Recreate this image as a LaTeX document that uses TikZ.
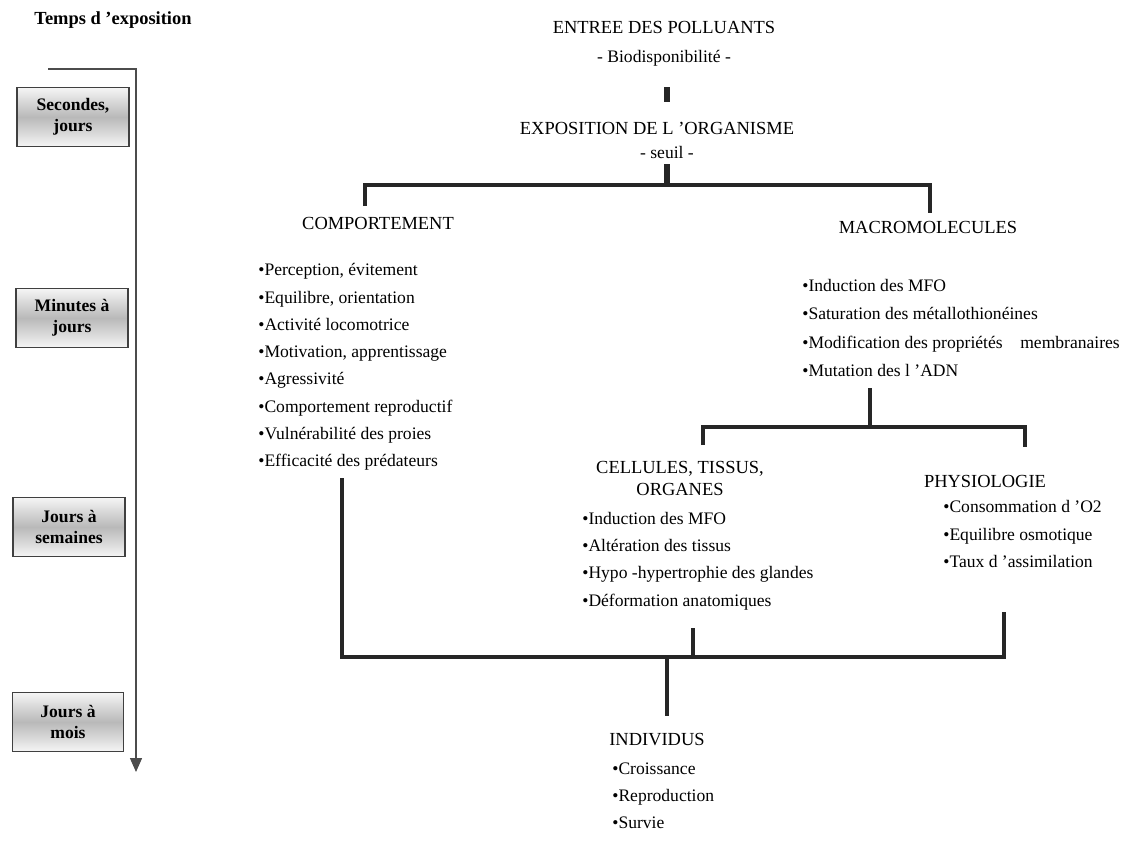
\documentclass[tikz,border=0pt]{standalone}
\usepackage{fontspec}
\setmainfont{Liberation Serif}
\usepackage{tikz}
\usetikzlibrary{arrows.meta, positioning}

\begin{document}
\begin{tikzpicture}[
  x=0.02cm, y=-0.02cm,
  every node/.style={font=\fontsize{10}{15.5}\selectfont},
  titre/.style={font=\fontsize{10.5}{12.5}\selectfont, align=center},
  liste/.style={align=left, anchor=west, inner sep=0pt},
  duree/.style={draw=black!75, line width=0.9pt, top color=gray!8, bottom color=gray!8, middle color=gray!55, minimum width=2.24cm, minimum height=1.18cm, align=center, inner sep=2pt, font=\fontsize{10}{12}\selectfont\bfseries},
  barre/.style={line width=2.8pt, black!85},
  fleche/.style={line width=0.8pt, black!70, -{Triangle[length=2.8mm, width=2.4mm]}}
]
  \useasboundingbox (0,0) rectangle (1140,845);

  % Echelle de temps
  \node[font=\fontsize{10.5}{12}\selectfont\bfseries] (temps) at (113,20) {Temps d 'exposition};
  \coordinate (t0) at (48,69);
  \coordinate (t1) at (136,772);
  \draw[fleche] (t0) -| (t1);
  \node[duree] (d1) at (73,117) {Secondes,\\jours};
  \node[duree] (d2) at (72,318) {Minutes à\\jours};
  \node[duree] (d3) at (69,527) {Jours à\\semaines};
  \node[duree, minimum width=2.22cm] (d4) at (68,722) {Jours à\\mois};

  % Entree et exposition
  \node[titre] (entree) at (664,27) {ENTREE DES POLLUANTS};
  \node (bio) at (664,58) {- Biodisponibilité -};
  \node[titre] (expo) at (657,128) {EXPOSITION DE L 'ORGANISME};
  \node (seuil) at (667,152) {- seuil -};
  \coordinate (b1h) at (667,87);
  \coordinate (b1b) at (667,102);
  \draw[barre, line width=3.2pt] (b1h) -- (b1b);

  % Premier embranchement
  \coordinate (s0) at (667,164);
  \coordinate (h1) at (667,185);
  \coordinate (cg) at (365,206);
  \coordinate (md) at (930,213);
  \draw[barre, line width=3.2pt] (s0) -- (h1);
  \draw[barre] (cg) |- (h1) -| (md);

  \node[titre] (comp) at (378,223) {COMPORTEMENT};
  \node[titre] (macro) at (928,227) {MACROMOLECULES};

  \node[liste] (lcomp) at (258,367) {\textbullet Perception, évitement\\
    \textbullet Equilibre, orientation\\
    \textbullet Activité locomotrice\\
    \textbullet Motivation, apprentissage\\
    \textbullet Agressivité\\
    \textbullet Comportement reproductif\\
    \textbullet Vulnérabilité des proies\\
    \textbullet Efficacité des prédateurs};

  \node[liste, font=\fontsize{10}{16}\selectfont] (lmacro) at (802,328) {\textbullet Induction des MFO\\
    \textbullet Saturation des métallothionéines\\
    \textbullet Modification des propriétés\quad membranaires\\
    \textbullet Mutation des l 'ADN};

  % Second embranchement
  \coordinate (m0) at (870,388);
  \coordinate (h2) at (870,427);
  \coordinate (tg) at (703,445);
  \coordinate (pd) at (1025,447);
  \draw[barre] (m0) -- (h2);
  \draw[barre] (tg) |- (h2) -| (pd);

  \node[titre] (cell) at (680,478) {CELLULES, TISSUS,\\ORGANES};
  \node[titre] (physio) at (985,481) {PHYSIOLOGIE};

  \node[liste] (lcell) at (582,561) {\textbullet Induction des MFO\\
    \textbullet Altération des tissus\\
    \textbullet Hypo -hypertrophie des glandes\\
    \textbullet Déformation anatomiques};

  \node[liste] (lphysio) at (943,534) {\textbullet Consommation d 'O2\\
    \textbullet Equilibre osmotique\\
    \textbullet Taux d 'assimilation};

  % Convergence vers les individus
  \coordinate (c0) at (342,478);
  \coordinate (p0) at (1004,612);
  \coordinate (h3) at (667,657);
  \coordinate (o0) at (693,628);
  \coordinate (o1) at (693,657);
  \coordinate (i0) at (667,716);
  \draw[barre] (c0) |- (h3) -| (p0);
  \draw[barre] (o0) -- (o1);
  \draw[barre] (h3) -- (i0);

  \node[titre] (indiv) at (657,740) {INDIVIDUS};
  \node[liste] (lindiv) at (612,796) {\textbullet Croissance\\
    \textbullet Reproduction\\
    \textbullet Survie};

\end{tikzpicture}
\end{document}
